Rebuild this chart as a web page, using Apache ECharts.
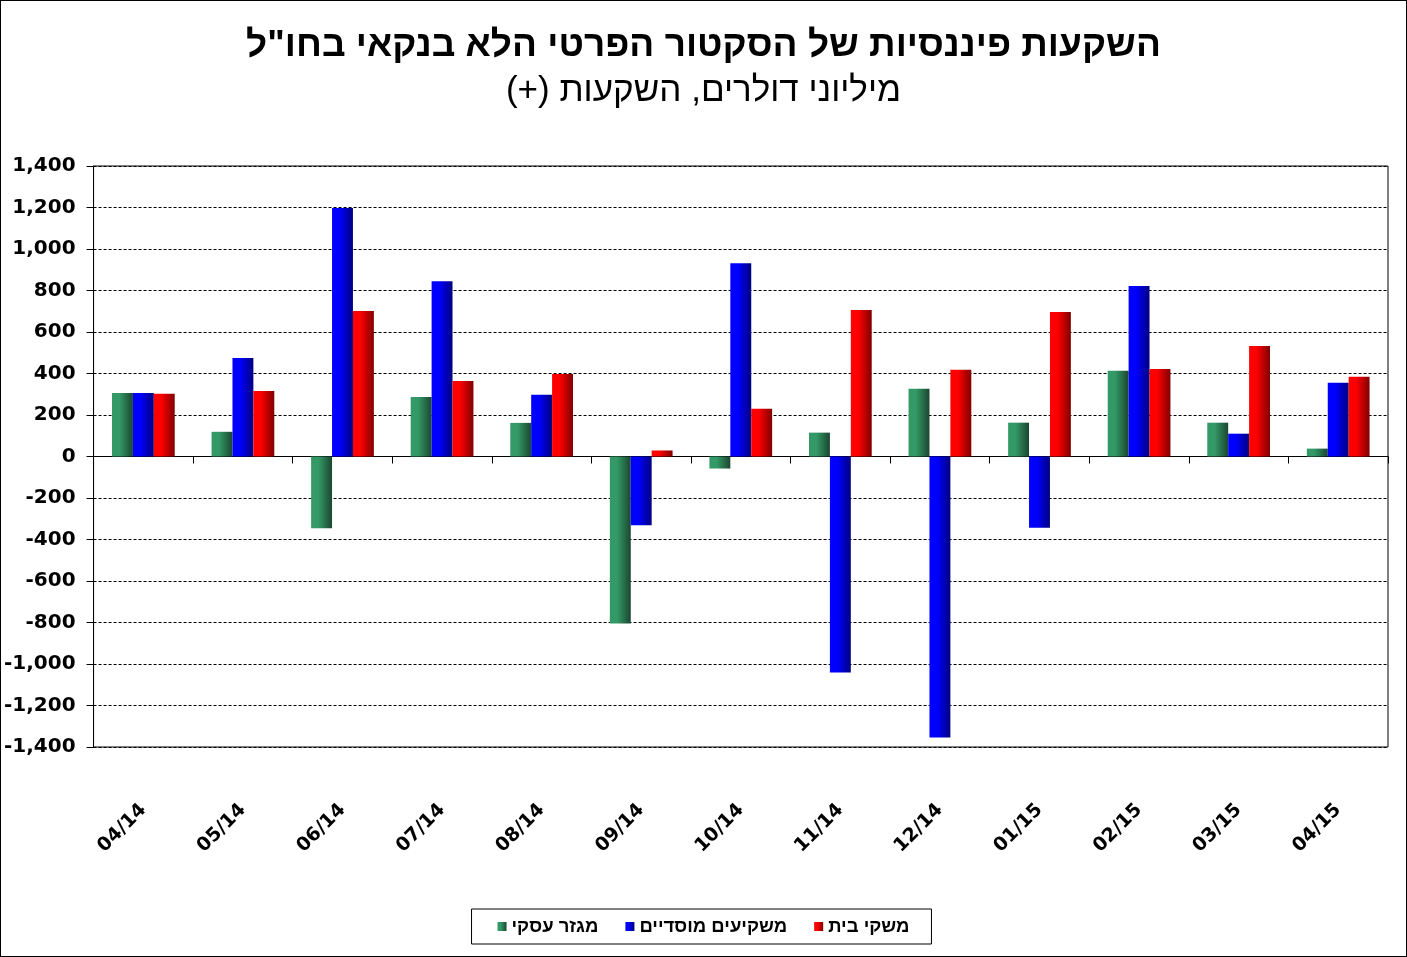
<!DOCTYPE html>
<html>
<head>
<meta charset="utf-8">
<script src="https://cdn.jsdelivr.net/npm/echarts@6/dist/echarts.min.js"></script>
<style>
  html, body { margin: 0; padding: 0; background: #fff; }
  #chart { width: 1407px; height: 957px; box-sizing: border-box; border: 1px solid #000; }
</style>
</head>
<body>
<div id="chart"></div>
<script>
// months shown on the x axis
var categories = ['04/14', '05/14', '06/14', '07/14', '08/14', '09/14', '10/14',
                  '11/14', '12/14', '01/15', '02/15', '03/15', '04/15'];

// millions of dollars
var businessSector = [306, 119, -346, 287, 162, -805, -58, 115, 326, 163, 413, 163, 38];
var institutional = [306, 475, 1198, 845, 297, -331, 931, -1041, -1354, -343, 822, 110, 355];
var households = [302, 316, 701, 364, 398, 29, 230, 706, 418, 696, 422, 533, 384];

var seriesNames = ['מגזר עסקי', 'משקיעים מוסדיים', 'משקי בית'];

var FONT = "'Liberation Sans', Arial, sans-serif";
var AXIS_FONT = "'DejaVu Sans', Verdana, sans-serif";

function hGrad(light, dark) {
    return new echarts.graphic.LinearGradient(0, 0, 1, 0, [
        { offset: 0, color: light },
        { offset: 0.35, color: light },
        { offset: 1, color: dark }
    ]);
}

function init() {
    var myChart = echarts.init(document.getElementById('chart'));

    myChart.setOption({
        animation: false,
        title: {
            text: 'השקעות פיננסיות של הסקטור הפרטי הלא בנקאי בחו"ל',
            subtext: 'מיליוני דולרים, השקעות (+)\u200F',
            left: 'center',
            top: 21,
            itemGap: 10,
            textStyle: { fontFamily: FONT, fontSize: 37, fontWeight: 'bold', color: '#000' },
            subtextStyle: { fontFamily: FONT, fontSize: 35, color: '#000' }
        },
        legend: {
            data: seriesNames,
            left: 'center',
            top: 908,
            align: 'left',
            icon: 'rect',
            itemWidth: 9,
            itemHeight: 9,
            itemGap: 27,
            padding: [8, 22, 8, 26],
            borderColor: '#000',
            borderWidth: 1,
            borderRadius: 0,
            textStyle: { fontFamily: FONT, fontSize: 18.5, fontWeight: 'bold', color: '#000' }
        },
        grid: {
            left: 92,
            right: 18,
            top: 165,
            bottom: 209,
            show: true,
            borderColor: '#000',
            borderWidth: 1,
            containLabel: false
        },
        xAxis: [
            {
                type: 'category',
                data: categories,
                position: 'bottom',
                axisLine: { onZero: true, lineStyle: { color: '#000', width: 1 } },
                axisTick: { show: true, length: 7, lineStyle: { color: '#000' } },
                axisLabel: { show: false }
            },
            {
                type: 'category',
                data: categories,
                position: 'bottom',
                axisLine: { show: false, onZero: false },
                axisTick: { show: false },
                axisLabel: {
                    rotate: 45,
                    margin: 60,
                    fontFamily: AXIS_FONT,
                    fontSize: 19,
                    fontWeight: 'bold',
                    color: '#000'
                }
            }
        ],
        yAxis: {
            type: 'value',
            min: -1400,
            max: 1400,
            interval: 200,
            axisLine: { show: true, lineStyle: { color: '#000' } },
            axisTick: { show: true, length: 7, lineStyle: { color: '#000' } },
            axisLabel: {
                margin: 18,
                fontFamily: AXIS_FONT,
                fontSize: 20,
                fontWeight: 'bold',
                color: '#000',
                formatter: function (v) { return v.toLocaleString('en-US'); }
            },
            splitLine: { show: true, lineStyle: { color: '#000', type: [3, 2], width: 1 } }
        },
        series: [
            {
                name: seriesNames[0],
                type: 'bar',
                data: businessSector,
                barGap: '0%',
                barCategoryGap: '37%',
                itemStyle: { color: hGrad('#339966', '#1a4630') }
            },
            {
                name: seriesNames[1],
                type: 'bar',
                data: institutional,
                itemStyle: { color: hGrad('#0000ff', '#000080') }
            },
            {
                name: seriesNames[2],
                type: 'bar',
                data: households,
                itemStyle: { color: hGrad('#ff0000', '#800000') }
            }
        ]
    });
}

document.addEventListener("DOMContentLoaded", function (event) {
    init();
});
</script>
</body>
</html>
